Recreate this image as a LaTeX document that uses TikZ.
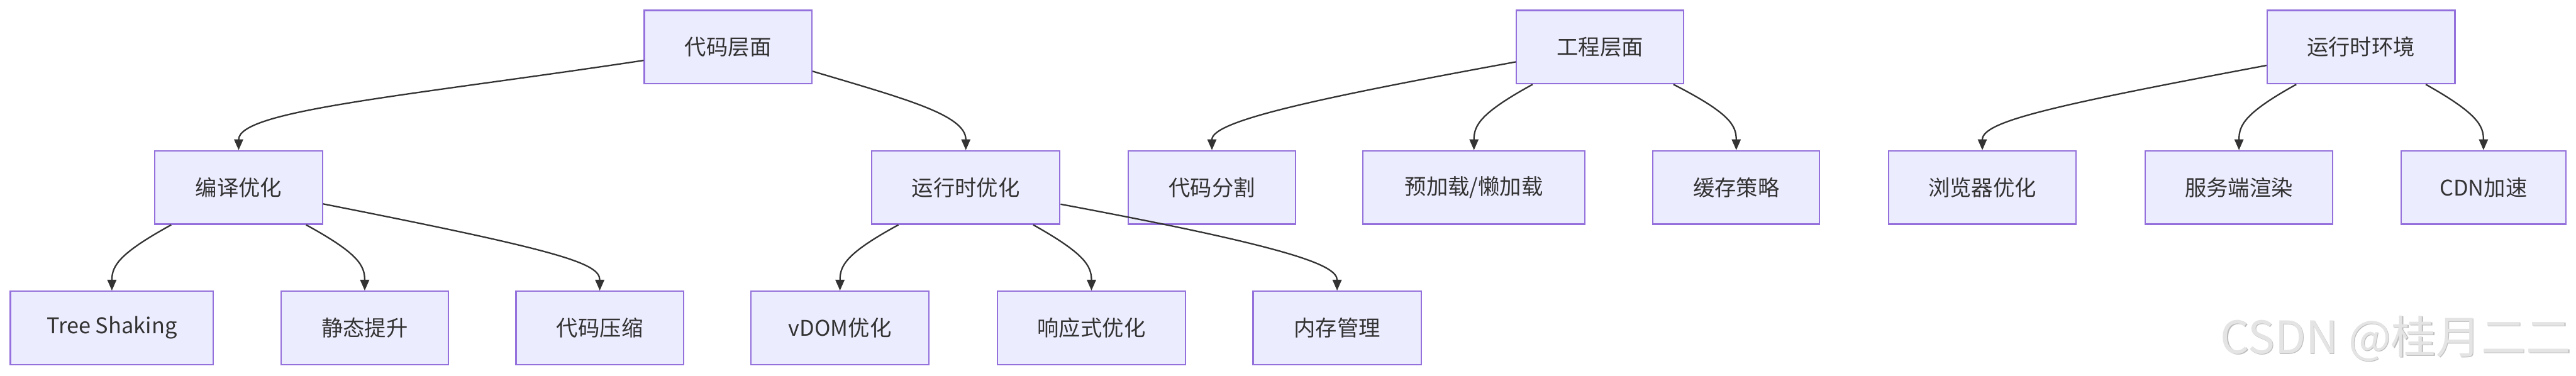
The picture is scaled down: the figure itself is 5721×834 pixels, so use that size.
\documentclass[tikz,border=0pt]{standalone}
\usepackage{fontspec}
\newfontfamily\cjk{Noto Sans CJK SC}
\usetikzlibrary{arrows.meta}
\definecolor{boxfill}{HTML}{ECECFF}
\definecolor{boxline}{HTML}{9370DB}
\definecolor{edgec}{HTML}{333333}
\definecolor{textc}{HTML}{333333}
\definecolor{wmfront}{HTML}{E4E4E4}
\definecolor{wmback}{HTML}{BDBDBD}
\tikzset{
  box/.style={draw=boxline, fill=boxfill, line width=0.75pt, minimum height=40.75pt,
    inner sep=0pt, text=textc, font=\cjk\fontsize{12}{14}\selectfont},
  bw/.style={minimum width=#1*0.25pt},
  edge/.style={draw=edgec, line width=0.8pt, -{Triangle[length=6pt,width=5pt]}},
}
\begin{document}
\begin{tikzpicture}[x=0.25pt,y=-0.25pt]
\useasboundingbox (0,0) rectangle (5721,834);
% top row
\node[box,bw=372] (A) at (1617,104.5) {代码层面};
\node[box,bw=371] (B) at (3553.5,104.5) {工程层面};
\node[box,bw=417] (C) at (5243.5,104.5) {运行时环境};
% middle row
\node[box,bw=372] (M1) at (530,416.5) {编译优化};
\node[box,bw=418] (M2) at (2145,416.5) {运行时优化};
\node[box,bw=371] (B1) at (2691.5,416.5) {代码分割};
\node[box,bw=493] (B2) at (3273.5,416.5) {预加载/懒加载};
\node[box,bw=370] (B3) at (3856,416.5) {缓存策略};
\node[box,bw=417] (C1) at (4402.5,416.5) {浏览器优化};
\node[box,bw=417] (C2) at (4972.5,416.5) {服务端渲染};
\node[box,bw=365] (C3) at (5515.5,416.5) {CDN加速};
% bottom row
\node[box,bw=451] (T1) at (248.5,728.5) {Tree Shaking};
\node[box,bw=372] (T2) at (810,728.5) {静态提升};
\node[box,bw=372] (T3) at (1332,728.5) {代码压缩};
\node[box,bw=395] (R1) at (1865.5,728.5) {vDOM优化};
\node[box,bw=418] (R2) at (2424,728.5) {响应式优化};
\node[box,bw=373] (R3) at (2969.5,728.5) {内存管理};
% edges
\draw[edge] (A.189) .. controls (900,214) and (530,245) .. (M1.north);
\draw[edge] (A.-16) .. controls (2008,219) and (2145,255) .. (M2.north);
\draw[edge] (M1.209) .. controls (265,563) and (248.5,590) .. (T1.north);
\draw[edge] (M1.-29) .. controls (796,563) and (810,590) .. (T2.north);
\draw[edge] (M1.-11) .. controls (1250,558) and (1332,585) .. (T3.north);
\draw[edge] (M2.209) .. controls (1878.6,563) and (1865.5,590) .. (R1.north);
\draw[edge] (M2.-29) .. controls (2407.8,563) and (2424,590) .. (R2.north);
\draw[edge] (M2.-10) .. controls (2876.5,551) and (2969.5,590) .. (R3.north);
\draw[edge] (B.190) .. controls (2904,222) and (2691.5,270) .. (B1.north);
\draw[edge] (B.209) .. controls (3288,251) and (3273.5,278) .. (B2.north);
\draw[edge] (B.-27) .. controls (3840.6,251) and (3856,278) .. (B3.north);
\draw[edge] (C.191) .. controls (4555.5,235) and (4402.5,270) .. (C1.north);
\draw[edge] (C.210) .. controls (4985,251) and (4972.5,278) .. (C2.north);
\draw[edge] (C.-30) .. controls (5500,251) and (5515.5,278) .. (C3.north);
% watermark
\node[anchor=east, inner sep=0pt, text=wmback, font=\cjk\fontsize{25}{28}\selectfont] (wmb) at (5713,754) {CSDN @桂月二二};
\node[anchor=east, inner sep=0pt, text=wmfront, font=\cjk\fontsize{25}{28}\selectfont] (wm) at (5711,752) {CSDN @桂月二二};
\end{tikzpicture}
\end{document}
